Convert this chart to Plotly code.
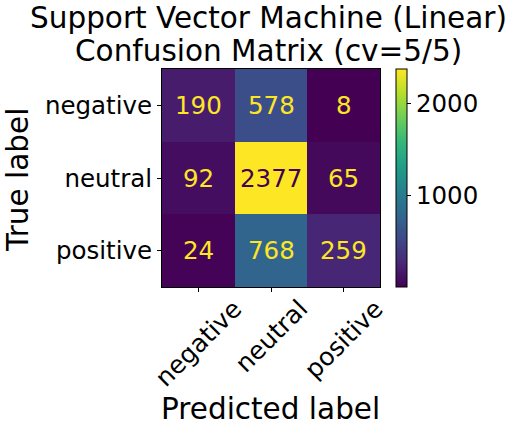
import plotly.graph_objects as go

labels = ["negative", "neutral", "positive"]
matrix = [
    [190, 578, 8],
    [92, 2377, 65],
    [24, 768, 259],
]
cbar_ticks = [1000, 2000]
title_lines = ["Support Vector Machine (Linear)", "Confusion Matrix (cv=5/5)"]
x_title = "Predicted label"
y_title = "True label"

FONT = "DejaVu Sans"
W, H = 519, 433
L, R, T, B = 162, 380, 69, 287  # plot area in pixels
PW, PH = R - L, B - T

def px(xp):
    return (xp - L) / PW

def py(yp):
    return (B - yp) / PH

zmin = min(min(r) for r in matrix)
zmax = max(max(r) for r in matrix)
n = len(labels)

fig = go.Figure(go.Heatmap(
    z=matrix, x=labels, y=labels,
    colorscale="Viridis", zmin=zmin, zmax=zmax,
    colorbar=dict(
        x=px(396), xanchor="left", xpad=0,
        y=0.5, yanchor="middle", len=1.0, lenmode="fraction", ypad=0,
        thickness=11, thicknessmode="pixels",
        outlinecolor="black", outlinewidth=1,
        tickvals=cbar_ticks, ticks="outside", ticklen=4, tickcolor="black",
        tickfont=dict(family=FONT, size=24.5, color="black"),
    ),
    hoverinfo="skip",
))

mid = (zmin + zmax) / 2
ann = []
for i, row in enumerate(matrix):
    for j, v in enumerate(row):
        ann.append(dict(
            x=labels[j], y=labels[i], xref="x", yref="y", text=str(v), showarrow=False,
            font=dict(family=FONT, size=24.5, color="#440154" if v > mid else "#fde725"),
        ))

# rotated x tick labels, centered under each tick (matplotlib style)
for lab in labels:
    ann.append(dict(
        x=lab, xref="x", y=py(292), yref="paper", text=lab, showarrow=False,
        textangle=-45, xanchor="center", yanchor="top",
        font=dict(family=FONT, size=25, color="black"),
    ))

# titles
ann.append(dict(x=px(268), y=py(18), xref="paper", yref="paper", text=title_lines[0],
                showarrow=False, xanchor="center", yanchor="middle",
                font=dict(family=FONT, size=29.5, color="black")))
ann.append(dict(x=px(268), y=py(51), xref="paper", yref="paper", text=title_lines[1],
                showarrow=False, xanchor="center", yanchor="middle",
                font=dict(family=FONT, size=29.5, color="black")))
ann.append(dict(x=px(270), y=py(409), xref="paper", yref="paper", text=x_title,
                showarrow=False, xanchor="center", yanchor="middle",
                font=dict(family=FONT, size=29.5, color="black")))
ann.append(dict(x=px(18), y=py(180), xref="paper", yref="paper", text=y_title,
                showarrow=False, xanchor="center", yanchor="middle", textangle=-90,
                font=dict(family=FONT, size=29.5, color="black")))

fig.update_layout(
    width=W, height=H,
    margin=dict(l=L, r=W - R, t=T, b=H - B, pad=0),
    paper_bgcolor="white", plot_bgcolor="white",
    annotations=ann,
    xaxis=dict(
        range=[-0.5, n - 0.5], autorange=False,
        ticks="outside", ticklen=4, tickcolor="black", showticklabels=False,
        showline=True, linecolor="black", linewidth=1, mirror=True,
    ),
    yaxis=dict(
        range=[n - 0.5, -0.5], autorange=False,
        ticks="outside", ticklen=4, tickcolor="black",
        showline=True, linecolor="black", linewidth=1, mirror=True,
        tickfont=dict(family=FONT, size=24.5, color="black"),
    ),
)

fig.write_html("out.html")
